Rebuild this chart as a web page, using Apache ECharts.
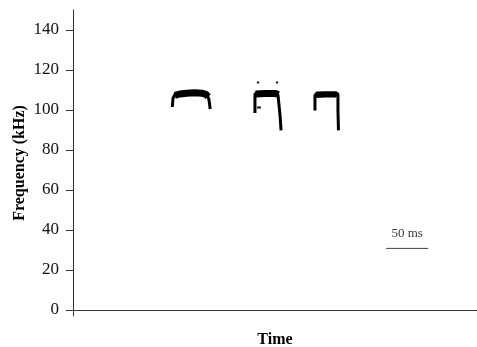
<!DOCTYPE html>
<html>
<head>
<meta charset="utf-8">
<script src="https://cdn.jsdelivr.net/npm/echarts@6/dist/echarts.min.js"></script>
<style>
  html, body { margin: 0; padding: 0; background: #fff; }
  #chart { width: 477px; height: 347px; }
</style>
</head>
<body>
<div id="chart"></div>
<script>
// frequency tick labels (kHz)
const freqTicks = [0, 20, 40, 60, 80, 100, 120, 140];

// call contours, [time (ms), frequency (kHz)]
const call1Path = [[118, 101.5], [118.8, 105.8], [121, 107.8], [126, 108.5], [155.5, 108.5], [159, 107.8], [161.5, 105.3], [163, 100.5]];
const call1Band = [[121, 107.3], [127, 108], [135, 108.4], [145, 108.6], [153, 108.4], [158, 107.8], [160.5, 106.6]];

const call2Path = [[216.2, 98.5], [216.2, 107.8], [218.6, 108.8], [241.2, 108.8], [243.6, 107.3], [244.8, 102.3], [246, 97.3], [247.2, 89.8]];
const call2Band = [[217, 108], [228, 108.3], [241, 108.3], [243.6, 107.6]];
const call2Noise = [[219.8, 113.8], [242.4, 113.8], [220, 101.3], [222, 101.3]];

const call3Path = [[287.5, 99.8], [287.5, 107.3], [289.9, 108.5], [312.5, 108.5], [314.8, 107.3], [314.8, 99.8], [315.4, 89.8]];
const call3Band = [[288.7, 107.5], [299.4, 107.8], [312.5, 107.8], [314.2, 107]];

// 50 ms scale bar
const scaleBar = [[372, 30.8], [422, 30.8]];
const scaleText = '50 ms';

const font = "'Liberation Serif', 'Times New Roman', serif";

const chart = echarts.init(document.getElementById('chart'));

function pathSeries(data, width) {
  return {
    type: 'line',
    data: data,
    showSymbol: false,
    symbol: 'none',
    silent: true,
    lineStyle: { color: '#000', width: width, join: 'round' },
  };
}

chart.setOption({
  animation: false,
  grid: { left: 73, right: 0, top: 10, bottom: 31, containLabel: false, outerBoundsMode: 'none' },
  xAxis: {
    type: 'value',
    min: 0,
    max: 480,
    name: 'Time',
    nameLocation: 'middle',
    nameGap: 16,
    nameTextStyle: { fontFamily: font, fontSize: 16, fontWeight: 'bold', color: '#000' },
    axisLine: { show: true, onZero: true, lineStyle: { color: '#333' } },
    axisTick: { show: false },
    axisLabel: { show: false },
    splitLine: { show: false },
  },
  yAxis: {
    type: 'value',
    min: -3,
    max: 150,
    name: 'Frequency (kHz)',
    nameLocation: 'middle',
    nameGap: 45,
    nameMoveOverlap: false,
    nameTextStyle: { fontFamily: font, fontSize: 16, fontWeight: 'bold', color: '#000' },
    axisLine: { show: true, lineStyle: { color: '#333' } },
    axisTick: { show: true, length: 7, customValues: freqTicks, lineStyle: { color: '#333' } },
    axisLabel: { customValues: freqTicks, margin: 14, fontFamily: font, fontSize: 17, color: '#111' },
    splitLine: { show: false },
  },
  series: [
    pathSeries(call1Path, 3),
    pathSeries(call1Band, 7),
    pathSeries(call2Path, 3),
    pathSeries(call2Band, 7),
    pathSeries(call3Path, 3),
    pathSeries(call3Band, 6),
    {
      type: 'scatter',
      data: call2Noise,
      symbolSize: 2.5,
      silent: true,
      itemStyle: { color: '#000' },
    },
    {
      type: 'line',
      data: scaleBar,
      showSymbol: false,
      symbol: 'none',
      silent: true,
      lineStyle: { color: '#444', width: 1 },
    },
    {
      type: 'scatter',
      data: [[(scaleBar[0][0] + scaleBar[1][0]) / 2, scaleBar[0][1]]],
      symbolSize: 0,
      silent: true,
      label: {
        show: true,
        position: 'top',
        distance: 8,
        formatter: scaleText,
        fontFamily: font,
        fontSize: 13,
        color: '#000',
      },
    },
  ],
});
</script>
</body>
</html>
